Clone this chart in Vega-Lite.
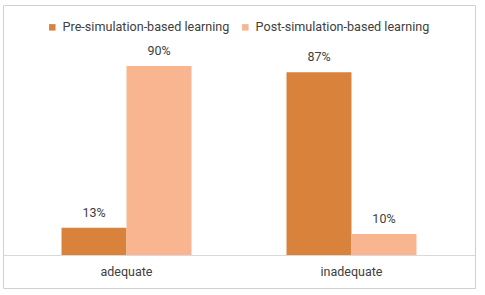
{
  "$schema": "https://vega.github.io/schema/vega-lite/v6.json",
  "autosize": "none",
  "padding": {"left": 3, "top": 5, "right": 10, "bottom": 7},
  "width": 472,
  "height": 283,
  "background": "white",
  "config": {
    "font": "Roboto",
    "view": {"stroke": "#d0d0d0", "strokeWidth": 1}
  },
  "data": {
    "values": [
      {"category": "adequate", "series": "Pre-simulation-based learning", "value": 0.13},
      {"category": "adequate", "series": "Post-simulation-based learning", "value": 0.90},
      {"category": "inadequate", "series": "Pre-simulation-based learning", "value": 0.87},
      {"category": "inadequate", "series": "Post-simulation-based learning", "value": 0.10}
    ]
  },
  "encoding": {
    "x": {
      "field": "category",
      "type": "nominal",
      "scale": {"paddingInner": 0, "paddingOuter": 0.049},
      "axis": {
        "title": null,
        "labelAngle": 0,
        "ticks": false,
        "offset": -33,
        "domainColor": "#d9d9d9",
        "labelColor": "#404040",
        "labelFontSize": 12.5,
        "labelPadding": 10
      }
    },
    "xOffset": {
      "field": "series",
      "sort": ["Pre-simulation-based learning", "Post-simulation-based learning"],
      "scale": {"paddingInner": 0, "paddingOuter": 0.731}
    },
    "y": {
      "field": "value",
      "type": "quantitative",
      "scale": {"domain": [-0.157, 1.1905], "nice": false, "zero": false},
      "axis": null
    }
  },
  "layer": [
    {
      "mark": {"type": "bar"},
      "encoding": {
        "y2": {"datum": 0},
        "color": {
          "field": "series",
          "type": "nominal",
          "sort": ["Pre-simulation-based learning", "Post-simulation-based learning"],
          "scale": {"range": ["#D9823B", "#F8B590"]},
          "legend": {
            "title": null,
            "orient": "none",
            "direction": "horizontal",
            "legendX": 43,
            "legendY": 16,
            "symbolType": "square",
            "symbolSize": 42,
            "symbolStrokeWidth": 0,
            "labelFontSize": 12.6,
            "labelLimit": 400,
            "labelColor": "#404040",
            "columnPadding": 9,
            "labelOffset": 4
          }
        }
      }
    },
    {
      "mark": {"type": "text", "baseline": "bottom", "dy": -8, "fontSize": 12.5, "color": "#404040"},
      "encoding": {
        "text": {"field": "value", "type": "quantitative", "format": ".0%"},
        "detail": {"field": "series"}
      }
    }
  ]
}
